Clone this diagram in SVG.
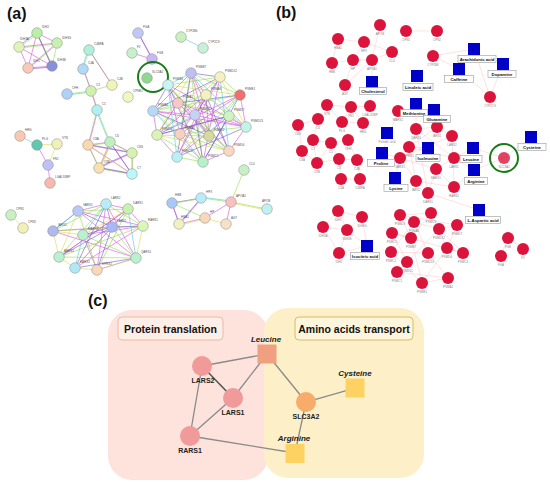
<svg xmlns="http://www.w3.org/2000/svg" width="550" height="484" viewBox="0 0 550 484">
<style>
text{font-family:"Liberation Sans",Arial,sans-serif}
.pl{font-size:16px;font-weight:bold;fill:#111}
.na{stroke:#8a8a8a;stroke-width:0.5}
.la{font-size:3px;fill:#555}
.rn{fill:#dc143c}
.lb{font-size:3px;fill:#888;text-anchor:middle}
.bq{fill:#0000c8}
.bx{fill:#fff;stroke:#999;stroke-width:0.6}
.bt{font-size:4.3px;font-weight:bold;fill:#111;text-anchor:middle}
.em{stroke:#d64fd6;stroke-width:0.7;fill:none;opacity:0.85}
.eg{stroke:#8fdc4a;stroke-width:0.7;fill:none;opacity:0.85}
.ep{stroke:#6a5acd;stroke-width:0.7;fill:none;opacity:0.85}
.ec{stroke:#4fc8e0;stroke-width:0.7;fill:none;opacity:0.85}
.ey{stroke:#d8d84a;stroke-width:0.7;fill:none;opacity:0.85}
.ek{stroke:#333;stroke-width:0.4;fill:none;opacity:0.7}
.eb{stroke:#f4b8b8;stroke-width:0.5;fill:none;opacity:0.8}
.ec3{stroke:#8a8a8a;stroke-width:1.3;fill:none}
.cn{font-size:7px;font-weight:bold;fill:#222;text-anchor:middle}
.cm{font-size:8px;font-weight:bold;font-style:italic;fill:#222;text-anchor:middle}
.ct{font-size:10.5px;font-weight:bold;fill:#111;text-anchor:middle}
</style>
<rect width="550" height="484" fill="#fff"/>
<text class="pl" x="7" y="19">(a)</text>
<text class="pl" x="276" y="18">(b)</text>
<text class="pl" x="88" y="306">(c)</text>

<!-- ===== Panel (a) connectors ===== -->
<g id="a-edges">
<path class="em" d="M37,33L52,66M57,43L28,68M19,47L52,66M37,33L28,68M19,47L57,43M28,68L52,66M37,33L57,43M19,47L28,68"/>
<path class="eg" d="M37.6,33.6L52.6,66.6M57.6,43.6L28.6,68.6M19,48L57,44M37,34L20,47M57,44L52,67"/>
<path class="ep" d="M36.4,32.4L51.4,65.4M19,46L37,32M28,69L52,67"/>
<path class="eg" d="M89,50L83,69M89,50L112,85M83,69L91,91M112,85L91,91M91,91L67,94M91,91L97,110M97,110L110,142M97,110L88,145"/>
<path class="em" d="M89.6,50.6L112.6,85.6M83.6,69.6L91.6,91.6M91.6,91.6L97.6,110.6M97.6,110.6L88.6,145.6"/>
<path class="ec" d="M88,50L82,69M91,92L68,95M96,110L109,142"/>
<path class="em" d="M88,145L110,142M88,145L99,168M88,145L132,153M110,142L132,153M110,142L132,174M110,142L99,168M132,153L132,174M99,168L132,174M88,145L132,174M132,153L99,168"/>
<path class="eg" d="M88.6,145.6L110.6,142.6M88.6,145.6L99.6,168.6M110.6,142.6L132.6,153.6M110.6,142.6L99.6,168.6M132.6,153.6L132.6,174.6M99.6,168.6L132.6,174.6"/>
<path class="ep" d="M87.4,144.4L131.4,152.4M109.4,141.4L131.4,173.4M98.4,167.4L131.4,173.4M131.4,152.4L98.4,167.4"/>
<path class="ey" d="M89,146L133,175M111,143L100,169"/>
<path class="ec" d="M20,136L37,145"/>
<path class="ey" d="M37,145L57,144M57,144L48,165"/>
<path class="em" d="M37,145L48,165M48,165L50,183"/>
<path class="ey" d="M11,215L23,228"/>
<path class="em" d="M138,33L152,59M132,53L152,59"/>
<path class="ep" d="M139,34L153,60"/>
<path class="ec" d="M181,37L203,48"/>
<!-- main proteasome cluster -->
<path class="em" d="M191,73L229,151M220,77L177,157M240,95L157,135M168,85L246,127M178,103L229,151M206,95L157,135M153,111L246,127M229,116L177,157M191,73L153,111M220,77L203,162M240,95L180,134M168,85L209,136M178,103L246,127M206,95L177,157M191,73L209,136M157,135L229,116M240,95L246,127M246,127L229,151M229,151L203,162M153,111L157,135M157,135L177,157M195,115L246,127M195,115L153,111M168,85L180,134M206,95L180,134"/>
<path class="eg" d="M191,73L203,162M220,77L157,135M240,95L177,157M168,85L229,151M178,103L229,116M206,95L153,111M153,111L229,151M246,127L180,134M191,73L240,95M168,85L220,77M157,135L209,136M180,134L229,151M220,77L240,95M177,157L203,162M195,115L229,151M195,115L168,85M157,135L203,162M191,73L180,134M240,95L153,111"/>
<path class="ep" d="M191,73L177,157M220,77L153,111M240,95L203,162M168,85L203,162M178,103L240,95M206,95L229,151M153,111L209,136M246,127L177,157M229,116L157,135M191,73L220,77M168,85L153,111M195,115L203,162M195,115L220,77M178,103L157,135M229,116L203,162"/>
<path class="ec" d="M168,85L177,157M153,111L203,162M191,73L246,127M220,77L229,151M240,95L209,136M168,85L191,73M229,116L246,127M195,115L157,135M206,95L229,116"/>
<path class="ey" d="M178,103L203,162M206,95L246,127M157,135L229,151M168,85L240,95M153,111L180,134M220,77L246,127M191,73L157,135M178,103L220,77"/>
<path class="ek" d="M191,73L206,95M206,95L209,136M178,103L209,136M180,134L203,162M168,85L178,103M195,115L209,136"/>
<!-- aminoacyl cluster -->
<path class="em" d="M78,211L106,204M106,204L128,209M128,209L143,226M78,211L136,258M106,204L97,270M128,209L59,257M143,226L75,268M112,227L53,231M83,235L143,226M53,231L136,258M59,257L128,209M75,268L112,227M97,270L136,258M78,211L143,226M106,204L136,258M83,235L97,270"/>
<path class="eg" d="M78,211L128,209M106,204L143,226M128,209L97,270M143,226L59,257M112,227L75,268M83,235L136,258M53,231L143,226M59,257L136,258M78,211L97,270M106,204L59,257M112,227L136,258M53,231L106,204"/>
<path class="ep" d="M78,211L112,227M106,204L112,227M128,209L112,227M143,226L112,227M112,227L97,270M112,227L59,257M112,227L83,235M53,231L78,211M75,268L136,258M106,204L75,268"/>
<path class="ey" d="M53,231L59,257M59,257L75,268M75,268L97,270M97,270L136,258M136,258L143,226M53,231L83,235M83,235L128,209M78,211L59,257"/>
<path class="ec" d="M53,231L78,211M83,235L75,268M106,204L83,235M128,209L136,258"/>
<!-- plasma cluster -->
<path class="ep" d="M172,203L201,198M172,203L179,224M201,198L179,224"/>
<path class="eg" d="M172.5,203.5L201.5,198.5M201,198L231,202M231,202L244,170M231,202L267,209M172,203L205,218"/>
<path class="em" d="M172,204L180,225M201,199L180,224M205,218L231,202M226,224L231,202M179,224L205,218"/>
<path class="ec" d="M201,197L231,201"/>
<path class="ey" d="M205,218L226,224M231,203L267,210M205,219L180,225"/>
</g>

<!-- ===== Panel (a) nodes ===== -->
<g id="a-IDH2"><circle class="na" cx="37" cy="33" r="5.3" fill="#b8f0a8"/><text class="la" x="42" y="28">IDH2</text></g>
<g id="a-IDH3G"><circle class="na" cx="57" cy="43" r="5.3" fill="#c8f0b0"/><text class="la" x="62" y="39">IDH3G</text></g>
<g id="a-IDH3A"><circle class="na" cx="19" cy="47" r="5.3" fill="#e0f4b8"/><text class="la" x="20" y="40">IDH3A</text></g>
<g id="a-IDH1"><circle class="na" cx="28" cy="68" r="5.3" fill="#f8c8b8"/><text class="la" x="33" y="62">IDH1</text></g>
<g id="a-IDH3B"><circle class="na" cx="52" cy="66" r="5.3" fill="#8890d8"/><text class="la" x="57" y="61">IDH3B</text></g>
<g id="a-C4BPA"><circle class="na" cx="89" cy="50" r="5.3" fill="#b0f0d8"/><text class="la" x="94" y="45">C4BPA</text></g>
<g id="a-C4A"><circle class="na" cx="83" cy="69" r="5.3" fill="#b0d8f8"/><text class="la" x="88" y="64">C4A</text></g>
<g id="a-C4B"><circle class="na" cx="112" cy="85" r="5.3" fill="#f0f4b8"/><text class="la" x="117" y="80">C4B</text></g>
<g id="a-C3"><circle class="na" cx="91" cy="91" r="5.3" fill="#d0f0b0"/><text class="la" x="96" y="86">C3</text></g>
<g id="a-CFH"><circle class="na" cx="67" cy="94" r="5.3" fill="#b0d0f8"/><text class="la" x="72" y="89">CFH</text></g>
<g id="a-C5"><circle class="na" cx="97" cy="110" r="5.3" fill="#b0f0f0"/><text class="la" x="102" y="105">C5</text></g>
<g id="a-C8A"><circle class="na" cx="88" cy="145" r="5.3" fill="#f8d8b0"/><text class="la" x="93" y="140">C8A</text></g>
<g id="a-C6"><circle class="na" cx="110" cy="142" r="5.3" fill="#c0f0c0"/><text class="la" x="115" y="137">C6</text></g>
<g id="a-C8G"><circle class="na" cx="132" cy="153" r="5.3" fill="#d8f0b0"/><text class="la" x="137" y="148">C8G</text></g>
<g id="a-C8B"><circle class="na" cx="99" cy="168" r="5.3" fill="#f8e0b0"/><text class="la" x="104" y="163">C8B</text></g>
<g id="a-C7"><circle class="na" cx="132" cy="174" r="5.3" fill="#b8f8f8"/><text class="la" x="137" y="169">C7</text></g>
<g id="a-HRG"><circle class="na" cx="20" cy="136" r="5.3" fill="#f8c8b0"/><text class="la" x="25" y="131">HRG</text></g>
<g id="a-PLG"><circle class="na" cx="37" cy="145" r="5.3" fill="#60c8b0"/><text class="la" x="42" y="140">PLG</text></g>
<g id="a-VTN"><circle class="na" cx="57" cy="144" r="5.3" fill="#f0f0b8"/><text class="la" x="62" y="139">VTN</text></g>
<g id="a-FN1"><circle class="na" cx="48" cy="165" r="5.3" fill="#c0c0f8"/><text class="la" x="53" y="160">FN1</text></g>
<g id="a-LGALS3BP"><circle class="na" cx="50" cy="183" r="5.3" fill="#f8b8b0"/><text class="la" x="55" y="178">LGALS3BP</text></g>
<g id="a-CPN1"><circle class="na" cx="11" cy="215" r="5.3" fill="#c8f0c0"/><text class="la" x="16" y="210">CPN1</text></g>
<g id="a-CPN2"><circle class="na" cx="23" cy="228" r="5.3" fill="#f0f0b8"/><text class="la" x="28" y="223">CPN2</text></g>
<g id="a-FGA"><circle class="na" cx="138" cy="33" r="5.3" fill="#c0c8f8"/><text class="la" x="143" y="28">FGA</text></g>
<g id="a-F2"><circle class="na" cx="132" cy="53" r="5.3" fill="#c8f0c8"/><text class="la" x="137" y="48">F2</text></g>
<g id="a-FGB"><circle class="na" cx="152" cy="59" r="5.3" fill="#c8b8f8"/><text class="la" x="157" y="54">FGB</text></g>
<g id="a-CYP2B6"><circle class="na" cx="181" cy="37" r="5.3" fill="#c8f0c0"/><text class="la" x="186" y="32">CYP2B6</text></g>
<g id="a-CYP2C9"><circle class="na" cx="203" cy="48" r="5.3" fill="#c8f0d8"/><text class="la" x="208" y="43">CYP2C9</text></g>
<g id="a-CPNE1"><circle class="na" cx="128" cy="97" r="5.3" fill="#f0f8c0"/><text class="la" x="133" y="92">CPNE1</text></g>
<g id="a-SLC3A2"><circle class="na" cx="147" cy="78" r="5.3" fill="#90d890"/><text class="la" x="152" y="73">SLC3A2</text><circle cx="153" cy="77" r="15" fill="none" stroke="#1a7a1a" stroke-width="2"/></g>
<g id="a-PSMB7"><circle class="na" cx="191" cy="73" r="5.3" fill="#c0c0f0"/><text class="la" x="196" y="68">PSMB7</text></g>
<g id="a-PSMD12"><circle class="na" cx="220" cy="77" r="5.3" fill="#f4f0c0"/><text class="la" x="225" y="72">PSMD12</text></g>
<g id="a-PSME1"><circle class="na" cx="240" cy="95" r="5.3" fill="#f07070"/><text class="la" x="245" y="90">PSME1</text></g>
<g id="a-PSMB6"><circle class="na" cx="168" cy="85" r="5.3" fill="#c8f4f4"/><text class="la" x="173" y="80">PSMB6</text></g>
<g id="a-PSMA1"><circle class="na" cx="178" cy="103" r="5.3" fill="#f8c8c8"/><text class="la" x="183" y="98">PSMA1</text></g>
<g id="a-PSMA6"><circle class="na" cx="206" cy="95" r="5.3" fill="#f4f0c0"/><text class="la" x="211" y="90">PSMA6</text></g>
<g id="a-PSMA3"><circle class="na" cx="153" cy="111" r="5.3" fill="#b8d8f8"/><text class="la" x="158" y="106">PSMA3</text></g>
<g id="a-PSMD7"><circle class="na" cx="229" cy="116" r="5.3" fill="#d0f4c0"/><text class="la" x="234" y="111">PSMD7</text></g>
<g id="a-PSMD13"><circle class="na" cx="246" cy="127" r="5.3" fill="#c0f4e8"/><text class="la" x="251" y="122">PSMD13</text></g>
<g id="a-PSMB5"><circle class="na" cx="195" cy="115" r="5.3" fill="#c8d0f4"/><text class="la" x="200" y="110">PSMB5</text></g>
<g id="a-PSMC4"><circle class="na" cx="157" cy="135" r="5.3" fill="#d8f4b8"/><text class="la" x="162" y="130">PSMC4</text></g>
<g id="a-PSMA2"><circle class="na" cx="180" cy="134" r="5.3" fill="#f8d0c0"/><text class="la" x="185" y="129">PSMA2</text></g>
<g id="a-PSMC2"><circle class="na" cx="209" cy="136" r="5.3" fill="#d8d8a0"/><text class="la" x="214" y="131">PSMC2</text></g>
<g id="a-PSMD6"><circle class="na" cx="229" cy="151" r="5.3" fill="#f8d8c0"/><text class="la" x="234" y="146">PSMD6</text></g>
<g id="a-PSMC3"><circle class="na" cx="177" cy="157" r="5.3" fill="#b8f0f4"/><text class="la" x="182" y="152">PSMC3</text></g>
<g id="a-PSMC1"><circle class="na" cx="203" cy="162" r="5.3" fill="#b8f0c8"/><text class="la" x="208" y="157">PSMC1</text></g>
<g id="a-VARS1"><circle class="na" cx="78" cy="211" r="5.3" fill="#b8c8f8"/><text class="la" x="83" y="206">VARS1</text></g>
<g id="a-LARS2"><circle class="na" cx="106" cy="204" r="5.3" fill="#b8ecf8"/><text class="la" x="111" y="199">LARS2</text></g>
<g id="a-DARS1"><circle class="na" cx="128" cy="209" r="5.3" fill="#c8f0b0"/><text class="la" x="133" y="204">DARS1</text></g>
<g id="a-RARS1"><circle class="na" cx="143" cy="226" r="5.3" fill="#d8f8b8"/><text class="la" x="148" y="221">RARS1</text></g>
<g id="a-LARS1"><circle class="na" cx="112" cy="227" r="5.3" fill="#a8b8f8"/><text class="la" x="117" y="222">LARS1</text></g>
<g id="a-IARS2"><circle class="na" cx="53" cy="231" r="5.3" fill="#b0b8f0"/><text class="la" x="58" y="226">IARS2</text></g>
<g id="a-MARS1"><circle class="na" cx="83" cy="235" r="5.3" fill="#b8f0d0"/><text class="la" x="88" y="230">MARS1</text></g>
<g id="a-AARS1"><circle class="na" cx="59" cy="257" r="5.3" fill="#b8f0d0"/><text class="la" x="64" y="252">AARS1</text></g>
<g id="a-EARS2"><circle class="na" cx="75" cy="268" r="5.3" fill="#b0e8f8"/><text class="la" x="80" y="263">EARS2</text></g>
<g id="a-EPRS1"><circle class="na" cx="97" cy="270" r="5.3" fill="#f8d8b8"/><text class="la" x="102" y="265">EPRS1</text></g>
<g id="a-QARS1"><circle class="na" cx="136" cy="258" r="5.3" fill="#b8f0d0"/><text class="la" x="141" y="253">QARS1</text></g>
<g id="a-CLU"><circle class="na" cx="244" cy="170" r="5.3" fill="#c8f0c8"/><text class="la" x="249" y="165">CLU</text></g>
<g id="a-HBB"><circle class="na" cx="172" cy="203" r="5.3" fill="#a8c8f8"/><text class="la" x="175" y="196">HBB</text></g>
<g id="a-HPX"><circle class="na" cx="201" cy="198" r="5.3" fill="#b8ecf8"/><text class="la" x="206" y="193">HPX</text></g>
<g id="a-APOA1"><circle class="na" cx="231" cy="202" r="5.3" fill="#f8c0c0"/><text class="la" x="236" y="197">APOA1</text></g>
<g id="a-HP"><circle class="na" cx="205" cy="218" r="5.3" fill="#f8d8b8"/><text class="la" x="210" y="213">HP</text></g>
<g id="a-HBA1"><circle class="na" cx="179" cy="224" r="5.3" fill="#f0f0c0"/><text class="la" x="181" y="218">HBA1</text></g>
<g id="a-AGT"><circle class="na" cx="226" cy="224" r="5.3" fill="#f8e0c8"/><text class="la" x="231" y="219">AGT</text></g>
<g id="a-APOB"><circle class="na" cx="267" cy="209" r="5.3" fill="#c0f0f0"/><text class="la" x="262" y="202">APOB</text></g>

<!-- ===== Panel (b) connectors ===== -->
<g id="b-edges">
<path class="eb" d="M338,39L364,42M364,42L392,52M332,63L353,60M353,60L372,60M372,60L392,52M338,39L332,63M364,42L353,60M380,25L372,60M353,60L345,85M372,60L345,85M372,60L372,82M327,105L351,107M351,107L370,106M342,122L363,123M327,105L342,122M351,107L363,123M342,122L351,107M406,31L437,31M433,56L474,49M433,56L459,69M474,49L490,97M503,64L490,97M459,69L490,97M474,49L459,69"/>
<path class="eb" d="M318,119L298,125M313,140L331,143M331,143L348,140M302,151L317,163M317,163L339,159M339,159L357,160M341,179L360,179M339,159L341,179M357,160L360,179M313,140L302,151M331,143L339,159M348,140L357,160M318,119L313,140M298,125L302,151M313,140L317,163M331,143L317,163M382,153L398,111"/>
<path class="eb" d="M416,129L437,127M437,127L452,136M409,147L454,158M400,158L436,169M416,181L454,187M428,193L436,169M416,129L454,158M437,127L409,147M452,136L400,158M409,147L416,181M454,158L436,169M454,187L436,169M400,158L416,181M416,129L428,193M452,136L454,187M428,148L409,147M473,148L454,158M474,170L454,158M473,148L504,158M504,158L531,137M504,158L474,170M474,170L454,187M416,104L416,129M434,110L437,127M395,178L400,158M382,153L400,158M428,193L479,210"/>
<path class="eb" d="M400,215L431,213M414,222L439,229M392,233L411,238M447,248L463,253M391,252L428,253M407,262L397,272M422,283L448,278M400,215L411,238M431,213L447,248M414,222L428,253M439,229L463,253M392,233L407,262M411,238L422,283M457,225L447,248M391,252L422,283M428,253L448,278M400,215L457,225M392,233L463,253M397,272L448,278M414,222L391,252M431,213L411,238M439,229L407,262M447,248L422,283M400,215L414,222M457,225L439,229"/>
<path class="eb" d="M338,211L362,217M323,227L347,230M338,211L347,230M362,217L347,230M323,227L339,253M347,230L339,253M338,211L323,227M362,217L367,246M347,230L367,246M339,253L367,246M508,238L523,249M508,238L501,256"/>
</g>

<!-- ===== Panel (b) nodes ===== -->
<g id="b-APOB"><circle class="rn" cx="380" cy="25" r="6"/><text class="lb" x="380" y="35">APOB</text></g>
<g id="b-HBA1"><circle class="rn" cx="338" cy="39" r="6"/><text class="lb" x="338" y="49">HBA1</text></g>
<g id="b-HPX"><circle class="rn" cx="364" cy="42" r="6"/><text class="lb" x="364" y="52">HPX</text></g>
<g id="b-CLU"><circle class="rn" cx="392" cy="52" r="6"/><text class="lb" x="392" y="62">CLU</text></g>
<g id="b-HBB"><circle class="rn" cx="332" cy="63" r="6"/><text class="lb" x="332" y="73">HBB</text></g>
<g id="b-HP"><circle class="rn" cx="353" cy="60" r="6"/><text class="lb" x="353" y="70">HP</text></g>
<g id="b-APOA1"><circle class="rn" cx="372" cy="60" r="6"/><text class="lb" x="372" y="70">APOA1</text></g>
<g id="b-AGT"><circle class="rn" cx="345" cy="85" r="6"/><text class="lb" x="345" y="95">AGT</text></g>
<g id="b-CPN1"><circle class="rn" cx="406" cy="31" r="6"/><text class="lb" x="406" y="41">CPN1</text></g>
<g id="b-CPN2"><circle class="rn" cx="437" cy="31" r="6"/><text class="lb" x="437" y="41">CPN2</text></g>
<g id="b-CYP2B6"><circle class="rn" cx="433" cy="56" r="6"/><text class="lb" x="433" y="66">CYP2B6</text></g>
<g id="b-CYP2C9"><circle class="rn" cx="490" cy="97" r="6"/><text class="lb" x="490" y="107">CYP2C9</text></g>
<g id="b-VTN"><circle class="rn" cx="327" cy="105" r="6"/><text class="lb" x="327" y="115">VTN</text></g>
<g id="b-FN1"><circle class="rn" cx="351" cy="107" r="6"/><text class="lb" x="351" y="117">FN1</text></g>
<g id="b-LGALS3BP"><circle class="rn" cx="370" cy="106" r="6"/><text class="lb" x="370" y="116">LGALS3BP</text></g>
<g id="b-MARS2"><circle class="rn" cx="398" cy="111" r="6"/><text class="lb" x="398" y="121">MARS2</text></g>
<g id="b-C6"><circle class="rn" cx="318" cy="119" r="6"/><text class="lb" x="318" y="129">C6</text></g>
<g id="b-C8G"><circle class="rn" cx="298" cy="125" r="6"/><text class="lb" x="298" y="135">C8G</text></g>
<g id="b-PLG"><circle class="rn" cx="342" cy="122" r="6"/><text class="lb" x="342" y="132">PLG</text></g>
<g id="b-HRG"><circle class="rn" cx="363" cy="123" r="6"/><text class="lb" x="363" y="133">HRG</text></g>
<g id="b-C7"><circle class="rn" cx="313" cy="140" r="6"/><text class="lb" x="313" y="150">C7</text></g>
<g id="b-C5"><circle class="rn" cx="331" cy="143" r="6"/><text class="lb" x="331" y="153">C5</text></g>
<g id="b-CFH"><circle class="rn" cx="348" cy="140" r="6"/><text class="lb" x="348" y="150">CFH</text></g>
<g id="b-C8A"><circle class="rn" cx="302" cy="151" r="6"/><text class="lb" x="302" y="161">C8A</text></g>
<g id="b-C8B"><circle class="rn" cx="317" cy="163" r="6"/><text class="lb" x="317" y="173">C8B</text></g>
<g id="b-C3"><circle class="rn" cx="339" cy="159" r="6"/><text class="lb" x="339" y="169">C3</text></g>
<g id="b-C4B"><circle class="rn" cx="357" cy="160" r="6"/><text class="lb" x="357" y="170">C4B</text></g>
<g id="b-C4A"><circle class="rn" cx="341" cy="179" r="6"/><text class="lb" x="341" y="189">C4A</text></g>
<g id="b-C4BPA"><circle class="rn" cx="360" cy="179" r="6"/><text class="lb" x="360" y="189">C4BPA</text></g>
<g id="b-QARS1"><circle class="rn" cx="416" cy="129" r="6"/><text class="lb" x="416" y="139">QARS1</text></g>
<g id="b-IARS1"><circle class="rn" cx="437" cy="127" r="6"/><text class="lb" x="437" y="137">IARS1</text></g>
<g id="b-LARS2"><circle class="rn" cx="452" cy="136" r="6"/><text class="lb" x="452" y="146">LARS2</text></g>
<g id="b-EPRS1"><circle class="rn" cx="409" cy="147" r="6"/><text class="lb" x="409" y="157">EPRS1</text></g>
<g id="b-LARS1"><circle class="rn" cx="454" cy="158" r="6"/><text class="lb" x="454" y="168">LARS1</text></g>
<g id="b-VARS1"><circle class="rn" cx="400" cy="158" r="6"/><text class="lb" x="400" y="168">VARS1</text></g>
<g id="b-KARS1"><circle class="rn" cx="436" cy="169" r="6"/><text class="lb" x="436" y="179">KARS1</text></g>
<g id="b-IARS2"><circle class="rn" cx="416" cy="181" r="6"/><text class="lb" x="416" y="191">IARS2</text></g>
<g id="b-RARS1"><circle class="rn" cx="454" cy="187" r="6"/><text class="lb" x="454" y="197">RARS1</text></g>
<g id="b-DARS1"><circle class="rn" cx="428" cy="193" r="6"/><text class="lb" x="428" y="203">DARS1</text></g>
<g id="b-PSMD3"><circle class="rn" cx="400" cy="215" r="6"/><text class="lb" x="400" y="225">PSMD3</text></g>
<g id="b-PSMA6"><circle class="rn" cx="414" cy="222" r="6"/><text class="lb" x="414" y="232">PSMA6</text></g>
<g id="b-PSMC3"><circle class="rn" cx="431" cy="213" r="6"/><text class="lb" x="431" y="223">PSMC3</text></g>
<g id="b-PSMC5"><circle class="rn" cx="392" cy="233" r="6"/><text class="lb" x="392" y="243">PSMC5</text></g>
<g id="b-PSMB7"><circle class="rn" cx="411" cy="238" r="6"/><text class="lb" x="411" y="248">PSMB7</text></g>
<g id="b-PSMD12"><circle class="rn" cx="439" cy="229" r="6"/><text class="lb" x="439" y="239">PSMD12</text></g>
<g id="b-PSMD7"><circle class="rn" cx="457" cy="225" r="6"/><text class="lb" x="457" y="235">PSMD7</text></g>
<g id="b-PSMD6"><circle class="rn" cx="447" cy="248" r="6"/><text class="lb" x="447" y="258">PSMD6</text></g>
<g id="b-PSMC2"><circle class="rn" cx="391" cy="252" r="6"/><text class="lb" x="391" y="262">PSMC2</text></g>
<g id="b-PSMD13"><circle class="rn" cx="428" cy="253" r="6"/><text class="lb" x="428" y="263">PSMD13</text></g>
<g id="b-PSMC4"><circle class="rn" cx="463" cy="253" r="6"/><text class="lb" x="463" y="263">PSMC4</text></g>
<g id="b-PSMD11"><circle class="rn" cx="407" cy="262" r="6"/><text class="lb" x="407" y="272">PSMD11</text></g>
<g id="b-PSMC1"><circle class="rn" cx="397" cy="272" r="6"/><text class="lb" x="397" y="282">PSMC1</text></g>
<g id="b-PSME1"><circle class="rn" cx="422" cy="283" r="6"/><text class="lb" x="422" y="293">PSME1</text></g>
<g id="b-PSMA1"><circle class="rn" cx="448" cy="278" r="6"/><text class="lb" x="448" y="288">PSMA1</text></g>
<g id="b-FGB"><circle class="rn" cx="508" cy="238" r="6"/><text class="lb" x="508" y="248">FGB</text></g>
<g id="b-F2"><circle class="rn" cx="523" cy="249" r="6"/><text class="lb" x="523" y="259">F2</text></g>
<g id="b-FGA"><circle class="rn" cx="501" cy="256" r="6"/><text class="lb" x="501" y="266">FGA</text></g>
<g id="b-IDH1"><circle class="rn" cx="338" cy="211" r="6"/><text class="lb" x="338" y="221">IDH1</text></g>
<g id="b-IDH3G"><circle class="rn" cx="362" cy="217" r="6"/><text class="lb" x="362" y="227">IDH3G</text></g>
<g id="b-IDH3A"><circle class="rn" cx="323" cy="227" r="6"/><text class="lb" x="323" y="237">IDH3A</text></g>
<g id="b-IDH3B"><circle class="rn" cx="347" cy="230" r="6"/><text class="lb" x="347" y="240">IDH3B</text></g>
<g id="b-IDH2"><circle class="rn" cx="339" cy="253" r="6"/><text class="lb" x="339" y="263">IDH2</text></g>
<g id="b-SLC3A2"><circle class="rn" cx="504" cy="158" r="6" opacity="0.8"/><text class="lb" x="504" y="168">SLC3A2</text><circle cx="504" cy="158" r="14" fill="none" stroke="#1a7a1a" stroke-width="2"/></g>

<g id="b-Cholesterol"><rect class="bq" x="366" y="76" width="12" height="12"/><rect class="bx" x="359.5" y="87.5" width="27" height="7"/><text class="bt" x="373" y="92.6">Cholesterol</text></g>
<g id="b-Arachidonic"><rect class="bq" x="468" y="43" width="12" height="12"/><rect class="bx" x="458" y="55.5" width="38" height="7"/><text class="bt" x="477" y="60.6">Arachidonic acid</text></g>
<g id="b-Caffeine"><rect class="bq" x="453" y="63" width="12" height="12"/><rect class="bx" x="444.5" y="75.5" width="29" height="7"/><text class="bt" x="459" y="80.6">Caffeine</text></g>
<g id="b-Dopamine"><rect class="bq" x="497" y="58" width="12" height="12"/><rect class="bx" x="488" y="70.5" width="28" height="7"/><text class="bt" x="502" y="75.6">Dopamine</text></g>
<g id="b-Linoleic"><rect class="bq" x="411" y="70" width="12" height="12"/><rect class="bx" x="403" y="83.5" width="30" height="7"/><text class="bt" x="418" y="88.6">Linoleic acid</text></g>
<g id="b-Methionine"><rect class="bq" x="410" y="98" width="12" height="12"/><rect class="bx" x="400.5" y="109.5" width="27" height="7"/><text class="bt" x="414" y="114.6">Methionine</text></g>
<g id="b-Glutamine"><rect class="bq" x="428" y="104" width="12" height="12"/><rect class="bx" x="423.5" y="115.5" width="27" height="7"/><text class="bt" x="437" y="120.6">Glutamine</text></g>
<g id="b-Palmitic"><rect class="bq" x="381" y="127" width="12" height="12"/><text class="lb" x="387" y="143">Palmitic acid</text></g>
<g id="b-Proline"><rect class="bq" x="376" y="147" width="12" height="12"/><rect class="bx" x="367.5" y="159.5" width="27" height="7"/><text class="bt" x="381" y="164.6">Proline</text></g>
<g id="b-Lysine"><rect class="bq" x="389" y="172" width="12" height="12"/><rect class="bx" x="384" y="184.5" width="24" height="7"/><text class="bt" x="396" y="189.6">Lysine</text></g>
<g id="b-Isoleucine"><rect class="bq" x="422" y="142" width="12" height="12"/><rect class="bx" x="416" y="154.5" width="24" height="7"/><text class="bt" x="428" y="159.6">Isoleucine</text></g>
<g id="b-Leucine"><rect class="bq" x="467" y="142" width="12" height="12"/><rect class="bx" x="460" y="155.5" width="22" height="7"/><text class="bt" x="471" y="160.6">Leucine</text></g>
<g id="b-Arginine"><rect class="bq" x="468" y="164" width="12" height="12"/><rect class="bx" x="464.5" y="177.5" width="23" height="7"/><text class="bt" x="476" y="182.6">Arginine</text></g>
<g id="b-Cysteine"><rect class="bq" x="525" y="131" width="12" height="12"/><rect class="bx" x="518" y="143.5" width="28" height="7"/><text class="bt" x="532" y="148.6">Cysteine</text></g>
<g id="b-LAspartic"><rect class="bq" x="473" y="204" width="12" height="12"/><rect class="bx" x="465.5" y="216.5" width="35" height="7"/><text class="bt" x="483" y="221.6">L-Aspartic acid</text></g>
<g id="b-Isocitric"><rect class="bq" x="361" y="240" width="12" height="12"/><rect class="bx" x="350.5" y="252.5" width="29" height="7"/><text class="bt" x="365" y="257.6">Isocitric acid</text></g>

<!-- ===== Panel (c) ===== -->
<g id="c-group-translation"><rect x="108" y="310" width="160" height="170" rx="24" fill="#fde3db"/><rect x="118" y="317" width="105" height="23" rx="4" fill="#fdeee8" stroke="#e8bca8" stroke-width="1"/><text class="ct" x="170.5" y="332.5">Protein translation</text></g>
<g id="c-group-transport"><rect x="264" y="308" width="160" height="170" rx="24" fill="#fdf0c8"/><rect x="295" y="317" width="118" height="23" rx="4" fill="#fdf5dc" stroke="#d8bc68" stroke-width="1"/><text class="ct" x="354" y="332.5">Amino acids transport</text></g>
<g id="c-edges">
<path class="ec3" d="M202,366L267,354M233,398L267,354M190,436L233,398M190,436L202,366M190,436L295,453M267,354L306,402M306,402L355,388M306,402L295,453"/>
<path d="M202,366L233,398" stroke="#555" stroke-width="1.6"/>
</g>
<g id="c-LARS2"><circle cx="202" cy="366" r="10" fill="#f09a9a"/><text class="cn" x="203" y="383">LARS2</text></g>
<g id="c-LARS1"><circle cx="233" cy="398" r="10" fill="#f09a9a"/><text class="cn" x="233" y="415">LARS1</text></g>
<g id="c-RARS1"><circle cx="190" cy="436" r="10" fill="#f09a9a"/><text class="cn" x="190" y="453">RARS1</text></g>
<g id="c-Leucine"><rect x="257.5" y="344.5" width="19" height="19" fill="#f0a080"/><text class="cm" x="266" y="342">Leucine</text></g>
<g id="c-SLC3A2"><circle cx="306" cy="402" r="10" fill="#f8ac6c"/><text class="cn" x="306" y="419">SLC3A2</text></g>
<g id="c-Cysteine"><rect x="345.5" y="378.5" width="19" height="19" fill="#fdd262"/><text class="cm" x="355" y="376">Cysteine</text></g>
<g id="c-Arginine"><rect x="285.5" y="444" width="19" height="19" fill="#fdd262"/><text class="cm" x="294" y="441">Arginine</text></g>
</svg>
